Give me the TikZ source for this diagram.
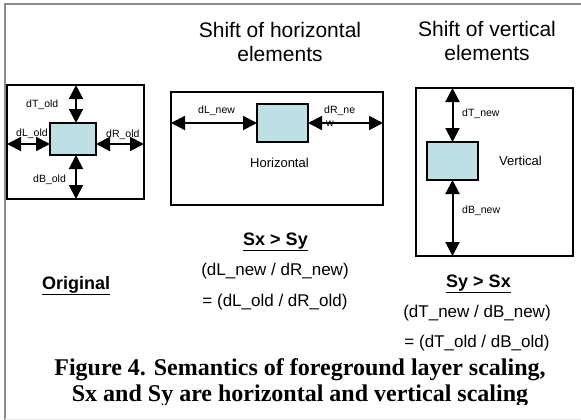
\documentclass[tikz,border=0pt]{standalone}
\usepackage{fontspec}
\setmainfont{Liberation Serif}
\newfontfamily\arial{Liberation Sans}
\usetikzlibrary{arrows.meta}
\definecolor{boxfill}{RGB}{190,224,228}
\definecolor{framegray}{RGB}{140,140,140}
\definecolor{framelight}{RGB}{232,232,232}
\newcommand\fsz[1]{\fontsize{#1}{#1}\selectfont}
\begin{document}
\begin{tikzpicture}[x=1pt,y=-1pt,
  outerbox/.style={draw, line width=1.5pt, inner sep=0pt, outer sep=0pt},
  innerbox/.style={draw, line width=1.8pt, fill=boxfill, inner sep=0pt, outer sep=0pt},
  dbl/.style={line width=2pt, {Triangle[length=14pt,width=14pt]}-{Triangle[length=14pt,width=14pt]}},
  small/.style={font=\arial\fsz{10.5}, inner sep=0pt, anchor=base west},
  mid/.style={font=\arial\fsz{13}, inner sep=0pt, anchor=base west},
  title/.style={font=\arial\fsz{21}, inner sep=0pt, anchor=base},
  eq/.style={font=\arial\fsz{17}, inner sep=0pt, anchor=base},
  head/.style={font=\arial\bfseries\fsz{18}, inner sep=0pt, anchor=base},
  captext/.style={font=\bfseries\fsz{24}, inner sep=0pt, anchor=base}]
\useasboundingbox (0,0) rectangle (581,420);
\draw[framegray, line width=1.5pt] (5,420) -- (5,4) -- (581,4);
\draw[framelight, line width=1pt] (5,419) -- (581,419);

% titles
\node[title] (t1a) at (280,38) {Shift of horizontal};
\node[title] (t1b) at (280,62) {elements};
\node[title] (t2a) at (487,37) {Shift of vertical};
\node[title] (t2b) at (487,61) {elements};

% original
\node[outerbox, minimum width=137pt, minimum height=114pt] (obox) at (75.5,142) {};
\node[innerbox, minimum width=46pt, minimum height=32pt] (oin) at (73,139) {};
\node[small] (ldTo) at (26,107) {dT\_old};
\node[small] (ldLo) at (16,136) {dL\_old};
\node[small] (ldRo) at (106,137) {dR\_old};
\node[small] (ldBo) at (33,182) {dB\_old};
\coordinate (ov) at (76,0);
\coordinate (oh) at (0,144);
\draw[dbl] (obox.north -| ov) -- (oin.north -| ov);
\draw[dbl] (oin.south -| ov) -- (obox.south -| ov);
\draw[dbl] (obox.west |- oh) -- (oin.west |- oh);
\draw[dbl] (oin.east |- oh) -- (obox.east |- oh);
\node[head, anchor=base west] (orig) at (42,289) {\underline{Original}};

% horizontal
\node[outerbox, minimum width=212pt, minimum height=113pt] (hbox) at (277,148.5) {};
\node[innerbox, minimum width=51pt, minimum height=38pt] (hin) at (282.5,123) {};
\node[small] (ldLn) at (198,113) {dL\_new};
\node[small] (ldRn) at (324,113) {dR\_ne};
\node[small] (ldRw) at (326,126) {w};
\node[mid] (lhor) at (250,167) {Horizontal};
\draw[dbl] (hbox.west |- hin.west) -- (hin.west);
\draw[dbl] (hin.east) -- (hbox.east |- hin.east);
\node[head] (sxsy) at (275.5,245) {\underline{Sx > Sy}};
\node[eq] (e1) at (275,275) {(dL\_new / dR\_new)};
\node[eq] (e2) at (275,306) {= (dL\_old / dR\_old)};

% vertical
\node[outerbox, minimum width=157pt, minimum height=168pt] (vbox) at (494.5,172) {};
\node[innerbox, minimum width=51pt, minimum height=38pt] (vin) at (452.5,161) {};
\node[small] (ldTn) at (462,116) {dT\_new};
\node[small] (ldBn) at (462,213) {dB\_new};
\node[mid] (lver) at (499,165) {Vertical};
\draw[dbl] (vbox.north -| vin.north) -- (vin.north);
\draw[dbl] (vin.south) -- (vbox.south -| vin.south);
\node[head] (sysx) at (478.5,287) {\underline{Sy > Sx}};
\node[eq] (e3) at (477,317) {(dT\_new / dB\_new)};
\node[eq] (e4) at (477,347) {= (dT\_old / dB\_old)};

% caption
\node[captext] (cap1) at (300,375) {Figure 4. Semantics of foreground layer scaling,};
\begin{scope}
\clip (0,0) rectangle (581,404);
\node[captext] (cap2) at (300,401) {Sx and Sy are horizontal and vertical scaling};
\end{scope}
\end{tikzpicture}
\end{document}
